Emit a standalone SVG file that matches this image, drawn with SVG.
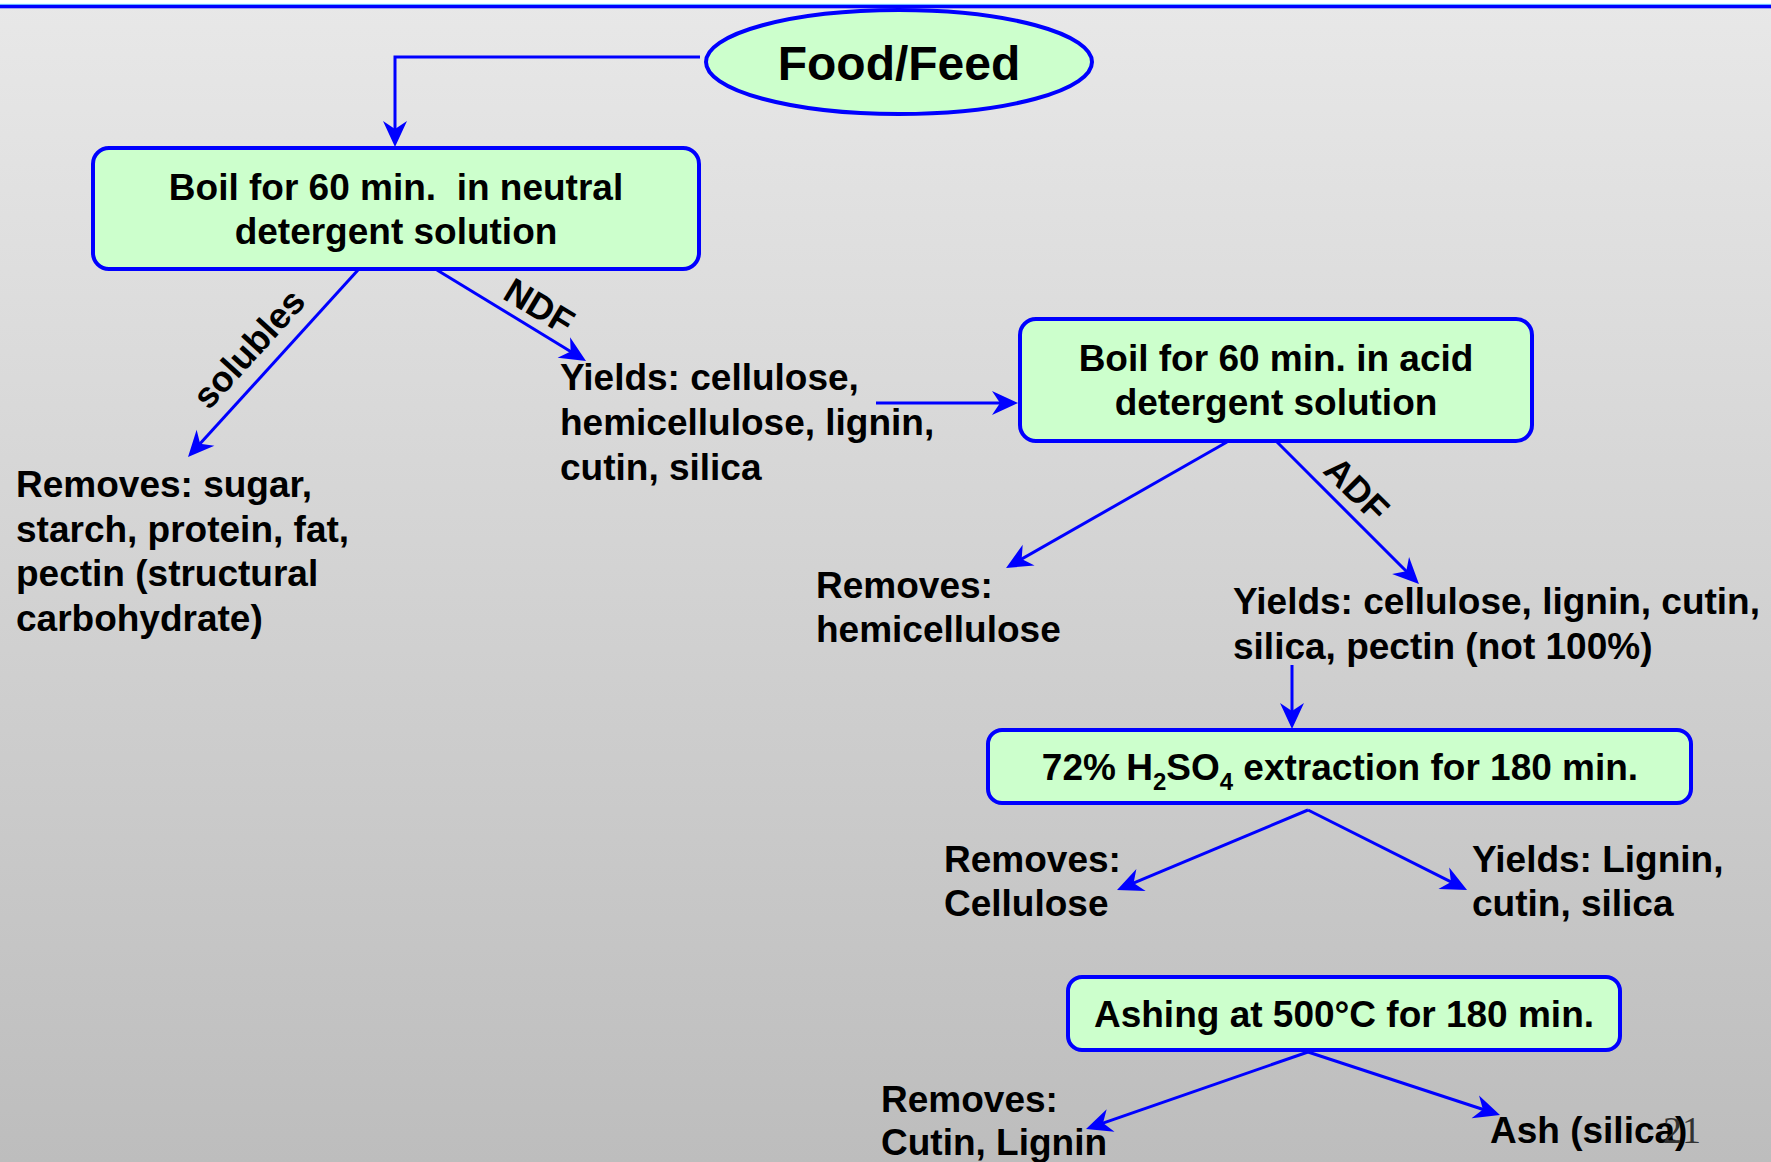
<svg xmlns="http://www.w3.org/2000/svg" width="1771" height="1162" viewBox="0 0 1771 1162">
<defs>
<linearGradient id="bg" x1="0" y1="0" x2="0" y2="1">
<stop offset="0" stop-color="#e8e8e8"/>
<stop offset="1" stop-color="#bdbdbd"/>
</linearGradient>
<marker id="ah" viewBox="-30 -15 30 30" markerWidth="30" markerHeight="30" refX="-8" refY="0" orient="auto" markerUnits="userSpaceOnUse">
<path d="M0,0 L-26,-12 L-18,0 L-26,12 Z" fill="#0000ff"/>
</marker>
<style>
.box{fill:#ccffcc;stroke:#0000ff;stroke-width:4}
.t{font-family:"Liberation Sans",Arial,sans-serif;font-weight:bold;font-size:37px;fill:#000}
.c{text-anchor:middle}
.lbl{font-family:"Liberation Sans",Arial,sans-serif;font-weight:bold;font-size:36px;fill:#000;text-anchor:middle}
.ln{stroke:#0000ff;stroke-width:3;fill:none}
.ar{marker-end:url(#ah)}
</style>
</defs>
<rect x="0" y="0" width="1771" height="1162" fill="url(#bg)"/>
<rect x="0" y="0" width="1771" height="4" fill="#ffffff"/>
<rect x="0" y="3.7" width="1771" height="1.3" fill="#99ffff"/>
<rect x="0" y="4.7" width="1771" height="3.6" fill="#0000ff"/>

<g id="connectors">
<polyline class="ln ar" points="700,57 395,57 395,139"/>
<line class="ln ar" x1="358" y1="270" x2="193.4" y2="451.1"/>
<line class="ln ar" x1="437" y1="270" x2="579.2" y2="356.8"/>
<line class="ln ar" x1="876" y1="403" x2="1010" y2="403"/>
<line class="ln ar" x1="1227" y1="442" x2="1013" y2="564"/>
<line class="ln ar" x1="1277" y1="442" x2="1413.3" y2="578.3"/>
<line class="ln ar" x1="1292" y1="665" x2="1292" y2="721"/>
<line class="ln ar" x1="1308" y1="810" x2="1124.4" y2="886.9"/>
<line class="ln ar" x1="1308" y1="810" x2="1459.9" y2="886.4"/>
<line class="ln ar" x1="1308" y1="1052" x2="1093.6" y2="1126.4"/>
<line class="ln ar" x1="1308" y1="1052" x2="1492.4" y2="1112.5"/>
<text class="lbl" transform="translate(258,357) rotate(-47.7)">solubles</text>
<text class="lbl" transform="translate(533,317) rotate(31)">NDF</text>
<text class="lbl" transform="translate(1348,498) rotate(45)">ADF</text>
</g>

<g id="food">
<ellipse cx="899" cy="62" rx="193" ry="52" class="box"/>
<text class="t c" x="899" y="80" style="font-size:48px">Food/Feed</text>
</g>

<g id="ndsolution">
<rect class="box" x="93" y="148" width="606" height="121" rx="16"/>
<text class="t c" x="396" y="200">Boil for 60 min.&#160; in neutral</text>
<text class="t c" x="396" y="244">detergent solution</text>
</g>

<g id="removes1">
<text class="t" x="16" y="497">Removes: sugar,</text>
<text class="t" x="16" y="542">starch, protein, fat,</text>
<text class="t" x="16" y="586">pectin (structural</text>
<text class="t" x="16" y="631">carbohydrate)</text>
</g>

<g id="yields1">
<text class="t" x="560" y="390">Yields: cellulose,</text>
<text class="t" x="560" y="435">hemicellulose, lignin,</text>
<text class="t" x="560" y="480">cutin, silica</text>
</g>

<g id="adsolution">
<rect class="box" x="1020" y="319" width="512" height="122" rx="16"/>
<text class="t c" x="1276" y="371">Boil for 60 min. in acid</text>
<text class="t c" x="1276" y="415">detergent solution</text>
</g>

<g id="removes2">
<text class="t" x="816" y="598">Removes:</text>
<text class="t" x="816" y="642">hemicellulose</text>
</g>

<g id="yields2">
<text class="t" x="1233" y="614">Yields: cellulose, lignin, cutin,</text>
<text class="t" x="1233" y="659">silica, pectin (not 100%)</text>
</g>

<g id="h2so4">
<rect class="box" x="988" y="730" width="703" height="73" rx="14"/>
<text class="t c" x="1340" y="780">72% H<tspan dy="10" font-size="24">2</tspan><tspan dy="-10">SO</tspan><tspan dy="10" font-size="24">4</tspan><tspan dy="-10"> extraction for 180 min.</tspan></text>
</g>

<g id="removes3">
<text class="t" x="944" y="872">Removes:</text>
<text class="t" x="944" y="916">Cellulose</text>
</g>

<g id="yields3">
<text class="t" x="1472" y="872">Yields: Lignin,</text>
<text class="t" x="1472" y="916">cutin, silica</text>
</g>

<g id="ashing">
<rect class="box" x="1068" y="977" width="552" height="73" rx="14"/>
<text class="t c" x="1344" y="1027">Ashing at 500°C for 180 min.</text>
</g>

<g id="removes4">
<text class="t" x="881" y="1112">Removes:</text>
<text class="t" x="881" y="1155">Cutin, Lignin</text>
</g>

<g id="ash">
<text class="t" x="1490" y="1143">Ash (silica)</text>
</g>

<text x="1663" y="1143" style="font-family:'Liberation Serif','Times New Roman',serif;font-size:38px;fill:#333">21</text>
</svg>
